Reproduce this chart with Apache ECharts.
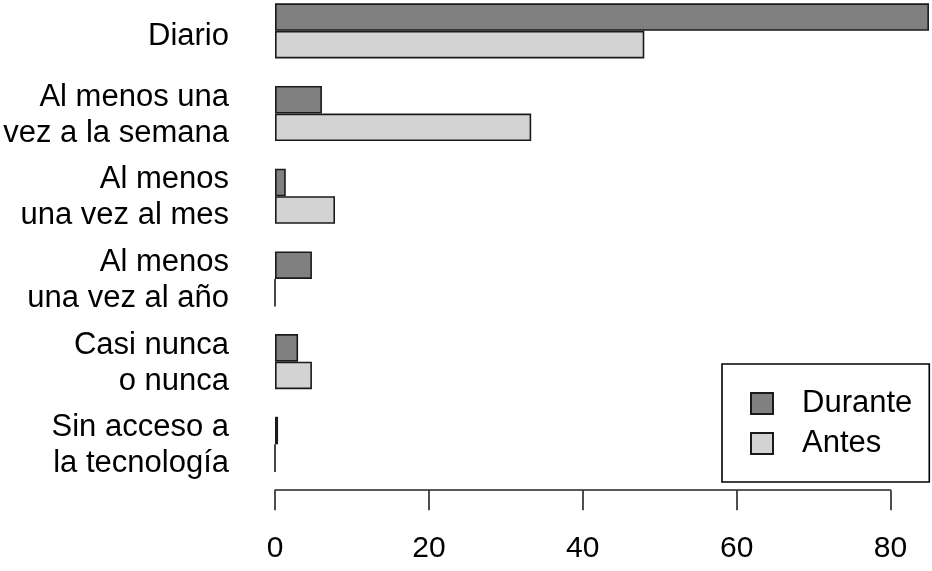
<!DOCTYPE html>
<html>
<head>
<meta charset="utf-8">
<script src="https://cdn.jsdelivr.net/npm/echarts@6/dist/echarts.min.js"></script>
<style>
html,body{margin:0;padding:0;background:#fff;}
#c{width:932px;height:571px;}
</style>
</head>
<body>
<div id="c"></div>
<script>
const categories = ['Diario', 'Al menos una\nvez a la semana', 'Al menos\nuna vez al mes', 'Al menos\nuna vez al año', 'Casi nunca\no nunca', 'Sin acceso a\nla tecnología'];
const durante = [85.0, 6.1, 1.4, 4.8, 3.0, 0.4];
const antes = [48.0, 33.3, 7.8, 0, 4.8, 0];
const xTicks = [0, 20, 40, 60, 80];
const seriesNames = ['Durante', 'Antes'];

const FONT = 'Liberation Sans, Arial, sans-serif';
const chart = echarts.init(document.getElementById('c'), null, {renderer: 'canvas'});

const barStyle = (fill) => ({color: fill, borderColor: '#1a1a1a', borderWidth: 1.6});

chart.setOption({
  animation: false,
  backgroundColor: '#fff',
  grid: {left: 275, right: 41.5, top: -10.5, bottom: 85.3, containLabel: false, outerBoundsMode: 'none'},
  xAxis: {
    type: 'value', min: xTicks[0], max: xTicks[xTicks.length - 1], interval: 20,
    offset: 4.5,
    splitLine: {show: false},
    axisLine: {show: true, lineStyle: {color: '#222', width: 1.6}},
    axisTick: {show: true, length: 20, lineStyle: {color: '#222', width: 1.6}},
    axisLabel: {color: '#000', fontSize: 30, fontFamily: FONT, margin: 44}
  },
  yAxis: {
    type: 'category', data: categories, inverse: true,
    axisLine: {show: false}, axisTick: {show: false}, splitLine: {show: false},
    axisLabel: {
      color: '#000', fontSize: 31, fontFamily: FONT, lineHeight: 36, margin: 46, align: 'right',
      formatter: (v) => v.split('\n').length === 1 ? '{one|' + v + '}' : '{two|' + v.split('\n').join('}\n{two|') + '}',
      rich: {
        one: {color: '#000', fontSize: 31, fontFamily: FONT, lineHeight: 36, padding: [12, 0, 0, 0]},
        two: {color: '#000', fontSize: 31, fontFamily: FONT, lineHeight: 36, padding: [3, 0, 0, 0]}
      }
    }
  },
  legend: {
    orient: 'vertical', left: 722, top: 364,
    data: seriesNames,
    icon: 'rect', itemWidth: 22, itemHeight: 21, itemGap: 9,
    padding: [24, 17, 23, 28],
    borderColor: '#000', borderWidth: 1.6,
    textStyle: {color: '#000', fontSize: 31, fontFamily: FONT, padding: [0, 0, 0, 24]}
  },
  series: [
    {name: seriesNames[0], type: 'bar', data: durante, barGap: '0%', barCategoryGap: '33.33%', clip: false, itemStyle: barStyle('#808080')},
    {name: seriesNames[1], type: 'bar', data: antes, barGap: '0%', barCategoryGap: '33.33%', clip: false, itemStyle: barStyle('#d3d3d3')}
  ]
});
</script>
</body>
</html>
